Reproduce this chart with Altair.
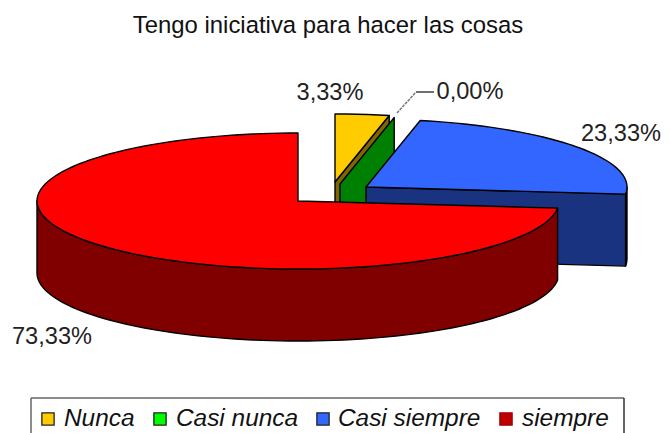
import altair as alt
import math

# ---- data ----
categories = ["Nunca", "Casi nunca", "Casi siempre", "siempre"]
percents = [3.33, 0.00, 23.33, 73.33]
title_text = "Tengo iniciativa para hacer las cosas"

# ---- styles ----
top_colors = ["#FFCC00", "#00A000", "#3366FF", "#FF0000"]
side_colors = ["#806600", "#008000", "#1A3380", "#800000"]
legend_colors = ["#FFCC00", "#00FF00", "#3366FF", "#C00000"]
legend_strokes = ["#222222", "#222222", "#222222", "#A00000"]

# ---- layout, in page pixels ----
PAGE = 8
RX, RY, DEPTH = 261, 68, 72
centers = [(335, 182), (340, 184), (366, 187), (298, 201)]
label_pos = [(330, 93, "center"), (470, 92, "center"), (621, 134, "center"), (52, 337, "center")]
legend_x = [(41, 64), (153, 176), (316, 338), (499, 522)]
legend_y = 419
box = (31, 624, 398)
FONT = "Liberation Sans"


def pt(c, t, drop=0):
    a = math.radians(t)
    return [c[0] + RX * math.sin(a) - PAGE, c[1] - RY * math.cos(a) + drop - PAGE]


def arc(c, t0, t1, drop=0):
    n = max(2, int(abs(t1 - t0) / 2) + 1)
    return [pt(c, t0 + (t1 - t0) * i / (n - 1), drop) for i in range(n)]


def poly(coords, fill):
    ring = coords + [coords[0]]
    return {"type": "Feature", "properties": {"fill": fill},
            "geometry": {"type": "Polygon", "coordinates": [ring]}}


features = []
start = 0.0
for i, p in enumerate(percents):
    end = start + p * 3.6 if i < 3 else 360.0
    c = centers[i]
    o = [c[0] - PAGE, c[1] - PAGE]
    rim0, rim1 = max(start, 90), min(end, 270)
    if rim1 > rim0:
        features.append(poly(arc(c, rim0, rim1) + arc(c, rim1, rim0, DEPTH), side_colors[i]))
    if i < 3:
        e = pt(c, end)
        features.append(poly([o, e, [e[0], e[1] + DEPTH], [o[0], o[1] + DEPTH]], side_colors[i]))
    if p > 0:
        features.append(poly([o] + arc(c, start, end), top_colors[i]))
    start = end

pie = (
    alt.Chart(alt.Data(values=features))
    .mark_geoshape(stroke="black", strokeWidth=1.4, strokeJoin="round")
    .encode(color=alt.Color("properties.fill:N", scale=None))
    .project(type="identity", scale=1, translate=[0, 0])
)

labels = [f"{v:.2f}%".replace(".", ",") for v in percents]


def page_x(v):
    return alt.value(v - PAGE)


layers = [pie]

layers.append(
    alt.Chart(alt.Data(values=[{"t": title_text}]))
    .mark_text(font=FONT, fontSize=23.9, color="#111111", align="center")
    .encode(text="t:N", x=page_x(328), y=page_x(26))
)

for lab, (x, y, al) in zip(labels, label_pos):
    layers.append(
        alt.Chart(alt.Data(values=[{"t": lab}]))
        .mark_text(font=FONT, fontSize=23.6, color="#222222", align=al)
        .encode(text="t:N", x=page_x(x), y=page_x(y))
    )

layers.append(
    alt.Chart(alt.Data(values=[{"a": 0}]))
    .mark_rule(color="#777777", strokeWidth=1.5, strokeDash=[3, 1])
    .encode(x=page_x(397), x2=page_x(416), y=page_x(113), y2=page_x(92))
)
layers.append(
    alt.Chart(alt.Data(values=[{"a": 0}]))
    .mark_rule(color="#222222", strokeWidth=1.3)
    .encode(x=page_x(416), x2=page_x(434), y=page_x(92), y2=page_x(92))
)

bl, br, bt = box
layers.append(
    alt.Chart(alt.Data(values=[{"a": 0}]))
    .mark_rule(color="#666666", strokeWidth=1.5)
    .encode(x=page_x(bl), x2=page_x(br), y=page_x(bt), y2=page_x(bt))
)
for bx, col in ((bl, "#666666"), (br, "#333333")):
    layers.append(
        alt.Chart(alt.Data(values=[{"a": 0}]))
        .mark_rule(color=col, strokeWidth=1.5)
        .encode(x=page_x(bx), x2=page_x(bx), y=page_x(bt), y2=page_x(440))
    )

for name, col, stk, (sx, tx) in zip(categories, legend_colors, legend_strokes, legend_x):
    layers.append(
        alt.Chart(alt.Data(values=[{"t": name}]))
        .mark_square(size=150, color=col, stroke=stk, strokeWidth=1.3, opacity=1)
        .encode(x=page_x(sx + 7), y=page_x(legend_y))
    )
    layers.append(
        alt.Chart(alt.Data(values=[{"t": name}]))
        .mark_text(font=FONT, fontSize=24.4, fontStyle="italic", color="#111111", align="left")
        .encode(text="t:N", x=page_x(tx), y=page_x(legend_y))
    )

chart = (
    alt.layer(*layers)
    .properties(width=654, height=425, padding=0, autosize=alt.AutoSizeParams(type="none"))
    .configure_view(stroke=None)
)

chart.save("out.html", embed_options={"renderer": "svg", "actions": False})
